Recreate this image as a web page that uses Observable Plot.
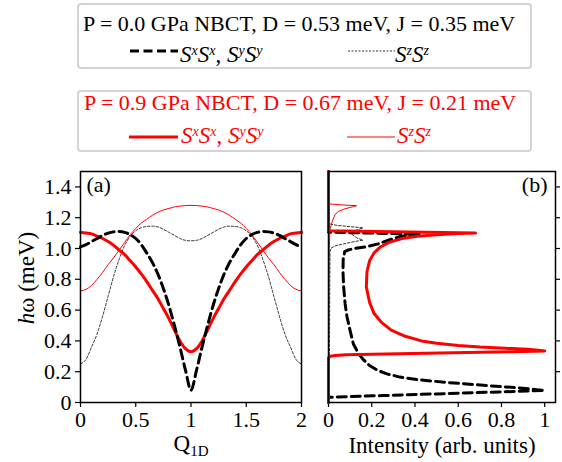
<!DOCTYPE html>
<html><head><meta charset="utf-8">
<script src="https://cdn.jsdelivr.net/npm/d3@7"></script>
<script src="https://cdn.jsdelivr.net/npm/@observablehq/plot@0.6"></script>
<style>
html,body{margin:0;padding:0;background:#fff;}
body{width:562px;height:462px;position:relative;overflow:hidden;font-family:"Liberation Serif","Times New Roman",serif;color:#000;}
.box{position:absolute;left:77px;width:455px;border:2px solid #d4d4d4;border-radius:4px;box-sizing:border-box;}
.t{position:absolute;white-space:nowrap;font-family:"Liberation Serif",serif;font-size:22px;line-height:22px;}
.sym{position:absolute;white-space:nowrap;font-family:"Liberation Serif",serif;font-size:23px;line-height:23px;font-style:italic;}
.sym sup{font-size:14px;vertical-align:0.5em;line-height:0;}
.sample{position:absolute;overflow:visible;}
#pa,#pb{position:absolute;top:160px;}
#pa{left:0;} #pb{left:310px;}
#pa svg, #pb svg, #pa text, #pb text{font-family:"Liberation Serif",serif !important;}
.ax{position:absolute;white-space:nowrap;font-family:"Liberation Serif",serif;font-size:23px;line-height:20px;}
.ax sub{font-size:15px;vertical-align:-0.3em;line-height:0;}
</style>
</head><body>
<div class="box" style="top:3px;height:66px;"></div>
<div class="box" style="top:90px;height:62px;"></div>
<div class="t" id="title1" style="left:83px;top:13px;">P = 0.0 GPa NBCT, D = 0.53 meV, J = 0.35 meV</div>
<div class="t" id="title2" style="left:84px;top:92px;color:#ff0000;">P = 0.9 GPa NBCT, D = 0.67 meV, J = 0.21 meV</div>
<svg class="sample" style="left:128px;top:46px;" width="52" height="10"><line x1="2" y1="5" x2="50" y2="5" stroke="#000" stroke-width="3" stroke-dasharray="9,4.5"/></svg>
<div class="sym" style="left:180px;top:43px;">S<sup>x</sup>S<sup>x</sup><span style="font-style:normal">, </span>S<sup>y</sup>S<sup>y</sup></div>
<svg class="sample" style="left:346px;top:46px;" width="52" height="10"><line x1="2" y1="5" x2="49" y2="5" stroke="#000" stroke-width="0.8" stroke-dasharray="2,1.5"/></svg>
<div class="sym" style="left:395px;top:43px;">S<sup>z</sup>S<sup>z</sup></div>
<svg class="sample" style="left:127px;top:132px;" width="54" height="10"><line x1="2" y1="5" x2="51" y2="5" stroke="#ff0000" stroke-width="3"/></svg>
<div class="sym" style="left:181px;top:124px;color:#ff0000;">S<sup>x</sup>S<sup>x</sup><span style="font-style:normal">, </span>S<sup>y</sup>S<sup>y</sup></div>
<svg class="sample" style="left:345px;top:132px;" width="54" height="10"><line x1="2" y1="5" x2="50" y2="5" stroke="#ff0000" stroke-width="1"/></svg>
<div class="sym" style="left:397px;top:124px;color:#ff0000;">S<sup>z</sup>S<sup>z</sup></div>

<div id="pa"></div>
<div id="pb"></div>
<div class="ax" style="left:191px;top:434px;transform:translateX(-50%);">Q<sub>1D</sub></div>
<div class="ax" style="left:442px;top:436px;transform:translateX(-50%);">Intensity (arb. units)</div>
<div class="ax" style="left:27px;top:278px;transform:translate(-50%,-50%) rotate(-90deg);"><i>h</i>ω (meV)</div>

<script>
// ---------- Panel (a): dispersion vs Q_1D ----------
const qGrid = [0,0.05,0.1,0.15,0.2,0.25,0.3,0.35,0.4,0.45,0.5,0.55,0.6,0.65,0.7,0.75,0.8,0.85,0.9,0.95,1.0,
  1.05,1.1,1.15,1.2,1.25,1.3,1.35,1.4,1.45,1.5,1.55,1.6,1.65,1.7,1.75,1.8,1.85,1.9,1.95,2.0];
// P = 0.0 GPa, SxSx/SySy (black thick dashed)
const dispXX_P0 = [1.01,1.025,1.045,1.065,1.085,1.10,1.108,1.11,1.105,1.09,1.065,1.025,0.97,0.91,0.835,0.74,0.63,0.50,0.36,0.21,0.08,
  0.21,0.36,0.50,0.63,0.74,0.835,0.91,0.97,1.025,1.065,1.09,1.105,1.11,1.108,1.10,1.085,1.065,1.045,1.025,1.01];
// P = 0.0 GPa, SzSz (black thin dashed)
const dispZZ_P0 = [0.25,0.28,0.36,0.445,0.56,0.69,0.82,0.93,1.02,1.08,1.115,1.135,1.143,1.145,1.14,1.125,1.105,1.085,1.065,1.053,1.05,
  1.053,1.065,1.085,1.105,1.125,1.14,1.145,1.143,1.135,1.115,1.08,1.02,0.93,0.82,0.69,0.56,0.445,0.36,0.28,0.25];
// P = 0.9 GPa, SxSx/SySy (red thick)
const dispXX_P9 = [1.105,1.10,1.095,1.08,1.065,1.045,1.02,0.99,0.96,0.92,0.88,0.835,0.785,0.73,0.675,0.61,0.545,0.47,0.40,0.35,0.33,
  0.35,0.40,0.47,0.545,0.61,0.675,0.73,0.785,0.835,0.88,0.92,0.96,0.99,1.02,1.045,1.065,1.08,1.095,1.10,1.105];
// P = 0.9 GPa, SzSz (red thin)
const dispZZ_P9 = [0.725,0.735,0.76,0.80,0.845,0.895,0.94,0.99,1.04,1.09,1.13,1.165,1.19,1.215,1.235,1.25,1.26,1.27,1.275,1.279,1.28,
  1.279,1.275,1.27,1.26,1.25,1.235,1.215,1.19,1.165,1.13,1.09,1.04,0.99,0.94,0.895,0.845,0.80,0.76,0.735,0.725];

// ---------- Panel (b): intensity vs energy ----------
const eXX_P0 = [0,0.034,0.045,0.056,0.067,0.078,0.085,0.095,0.11,0.13,0.147,0.165,0.186,0.21,0.24,0.28,0.315,0.38,0.467,0.56,0.64,0.75,0.85,0.93,0.98,0.99,1.0,1.01,1.03,1.06,1.08,1.093,1.10,1.106,1.5];
const iXX_P0 = [0,0,0.25,0.5,0.75,1.0,0.95,0.88,0.73,0.55,0.42,0.33,0.27,0.225,0.19,0.16,0.14,0.115,0.10,0.085,0.077,0.07,0.067,0.068,0.075,0.09,0.12,0.17,0.23,0.29,0.34,0.42,0.2,0,0];
const eZZ_P0 = [0,0.25,0.5,0.8,0.98,1.0,1.017,1.03,1.045,1.054,1.07,1.09,1.104,1.12,1.134,1.142,1.15,1.158,1.17,1.5];
const iZZ_P0 = [0,0.004,0.005,0.006,0.007,0.01,0.03,0.07,0.12,0.16,0.13,0.11,0.108,0.13,0.16,0.1,0.04,0.01,0,0];
const eXX_P9 = [0,0.29,0.30,0.305,0.31,0.32,0.33,0.335,0.34,0.345,0.35,0.36,0.37,0.385,0.40,0.43,0.47,0.52,0.58,0.65,0.75,0.85,0.92,0.97,1.01,1.04,1.065,1.08,1.09,1.097,1.10,1.108,1.115,1.13,1.5];
const iXX_P9 = [0,0,0.01,0.03,0.08,0.45,0.85,1.0,0.97,0.92,0.85,0.70,0.60,0.50,0.43,0.355,0.29,0.245,0.21,0.19,0.175,0.178,0.19,0.21,0.24,0.28,0.34,0.41,0.50,0.60,0.68,0.30,0.0,0,0];
const eZZ_P9 = [0,0.72,1.0,1.1,1.13,1.17,1.22,1.24,1.255,1.265,1.272,1.278,1.283,1.29,1.5];
const iZZ_P9 = [0,0.002,0.004,0.006,0.008,0.016,0.03,0.045,0.07,0.095,0.115,0.13,0.06,0,0];

const yTicks = [0,0.2,0.4,0.6,0.8,1.0,1.2,1.4];
const xTicksA = [0,0.5,1,1.5,2];
const xTicksB = [0,0.2,0.4,0.6,0.8,1];

const RED = "#ff0000";
const FONT = '"Liberation Serif","Times New Roman",serif';
const zipA = ys => qGrid.map((q,i)=>({q, e: ys[i]}));
const zipB = (es, is) => es.map((e,i)=>({e, v: is[i]}));

const plotA = Plot.plot({
  width: 310, height: 300,
  marginLeft: 80, marginRight: 9, marginTop: 11, marginBottom: 58,
  style: {fontFamily: FONT, fontSize: "22px", color: "#000", background: "transparent", overflow: "visible"},
  x: {domain: [0, 2]},
  y: {domain: [0, 1.5]},
  marks: [
    Plot.axisX(xTicksA, {tickFormat: d => String(d), tickSize: 5, tickPadding: 4, label: null, strokeWidth: 1.2, fontFamily: FONT, fontSize: 22}),
    Plot.axisY(yTicks, {tickFormat: d => d === 0 ? "0" : d.toFixed(1), tickSize: 5, tickPadding: 4, label: null, strokeWidth: 1.2, fontFamily: FONT, fontSize: 22}),
    Plot.line(zipA(dispZZ_P0), {x: "q", y: "e", stroke: "#000", strokeWidth: 0.8, strokeDasharray: "2.5,1.8", curve: "monotone-x"}),
    Plot.line(zipA(dispZZ_P9), {x: "q", y: "e", stroke: RED, strokeWidth: 1, curve: "monotone-x"}),
    Plot.line(zipA(dispXX_P9), {x: "q", y: "e", stroke: RED, strokeWidth: 3, curve: "monotone-x"}),
    Plot.line(zipA(dispXX_P0), {x: "q", y: "e", stroke: "#000", strokeWidth: 3, strokeDasharray: "9,5", curve: "monotone-x"}),
    Plot.frame({stroke: "#000", strokeWidth: 1.5}),
    Plot.text(["(a)"], {frameAnchor: "top-left", dx: 6, dy: 5, fontSize: 22, fontFamily: FONT, textAnchor: "start", lineAnchor: "top"})
  ]
});
document.getElementById("pa").appendChild(plotA);

const plotB = Plot.plot({
  width: 252, height: 300,
  marginLeft: 18, marginRight: 7, marginTop: 11, marginBottom: 58,
  style: {fontFamily: FONT, fontSize: "22px", color: "#000", background: "transparent", overflow: "visible"},
  x: {domain: [0, 1.05]},
  y: {domain: [0, 1.5]},
  marks: [
    Plot.axisX(xTicksB, {tickFormat: d => String(d), tickSize: 5, tickPadding: 4, label: null, strokeWidth: 1.2, fontFamily: FONT, fontSize: 22}),
    Plot.axisY(yTicks.slice(1), {anchor: "right", tickFormat: () => "", tickSize: 4, label: null, strokeWidth: 1.2}),
    Plot.line(zipB(eZZ_P0, iZZ_P0), {x: "v", y: "e", stroke: "#000", strokeWidth: 0.8, strokeDasharray: "2.5,1.8", curve: "linear"}),
    Plot.line(zipB(eXX_P0, iXX_P0), {x: "v", y: "e", stroke: "#000", strokeWidth: 3, strokeDasharray: "9,5", curve: "linear"}),
    Plot.line(zipB(eZZ_P9, iZZ_P9), {x: "v", y: "e", stroke: RED, strokeWidth: 1, curve: "linear"}),
    Plot.line(zipB(eXX_P9, iXX_P9), {x: "v", y: "e", stroke: RED, strokeWidth: 3, curve: "linear"}),
    Plot.frame({stroke: "#000", strokeWidth: 1.5}),
    Plot.text(["(b)"], {frameAnchor: "top-right", dx: -8, dy: 5, fontSize: 22, fontFamily: FONT, textAnchor: "end", lineAnchor: "top"})
  ]
});
document.getElementById("pb").appendChild(plotB);
</script>
</body></html>
